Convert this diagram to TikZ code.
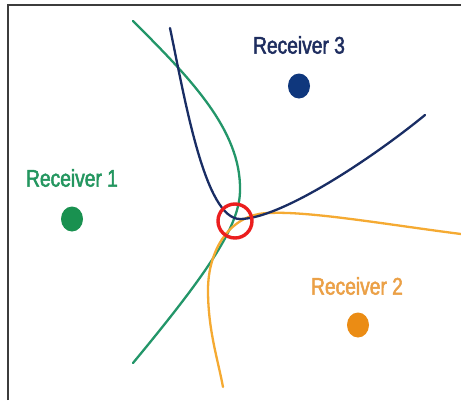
\documentclass[tikz,border=0pt]{standalone}
\usepackage{fontspec}
\usetikzlibrary{shapes.geometric}
\newfontfamily\labelfont[FakeStretch=0.8,FakeBold=2]{Liberation Sans}
\definecolor{gtext}{RGB}{35,150,95}
\definecolor{gline}{RGB}{35,150,105}
\definecolor{gdot}{RGB}{25,145,80}
\definecolor{ntext}{RGB}{30,45,95}
\definecolor{nline}{RGB}{25,45,100}
\definecolor{ndot}{RGB}{15,55,125}
\definecolor{otext}{RGB}{235,160,70}
\definecolor{oline}{RGB}{245,170,50}
\definecolor{odot}{RGB}{235,140,20}
\definecolor{fixred}{RGB}{235,30,30}
\definecolor{framegray}{RGB}{60,60,60}
\begin{document}
\begin{tikzpicture}[x=1pt,y=-1pt,
  lbl/.style={font=\labelfont\fontsize{24}{28}\selectfont, inner sep=0pt},
  rdot/.style={ellipse, minimum width=22pt, minimum height=25pt, inner sep=0pt},
  curve/.style={line width=2.3pt, line cap=round},
  fix/.style={circle, draw=fixred, line width=3.4pt, minimum size=34pt, inner sep=0pt}]
\useasboundingbox (0,0) rectangle (461,400);
\fill[white] (0,0) rectangle (461,400);
% frame along the top and left edges
\draw[framegray, line width=1.3pt] (8,400) -- (8,5) -- (461,5);

% range curves of the three receivers
\draw[curve, gline] (133,21) .. controls (190,78) and (241,130) .. (240,190)
  .. controls (240,225) and (210,270) .. (133,363);
\draw[curve, oline] (461,234) .. controls (390,225) and (310,211) .. (270,213)
  .. controls (230,213) and (208,250) .. (208,290)
  .. controls (208,330) and (218,360) .. (223,387);
\draw[curve, nline] (170,28) .. controls (185,100) and (205,219) .. (240,219)
  .. controls (280,219) and (370,160) .. (425,115);

% receivers
\node[rdot, fill=gdot] (r1) at (72,219) {};
\node[rdot, fill=odot] (r2) at (358,325) {};
\node[rdot, fill=ndot] (r3) at (299,86) {};
\node[lbl, text=gtext] (l1) at (72,178) {Receiver 1};
\node[lbl, text=otext] (l2) at (357,286) {Receiver 2};
\node[lbl, text=ntext] (l3) at (299,45) {Receiver 3};

% position fix
\node[fix] (fixpt) at (235,221) {};
\end{tikzpicture}
\end{document}
